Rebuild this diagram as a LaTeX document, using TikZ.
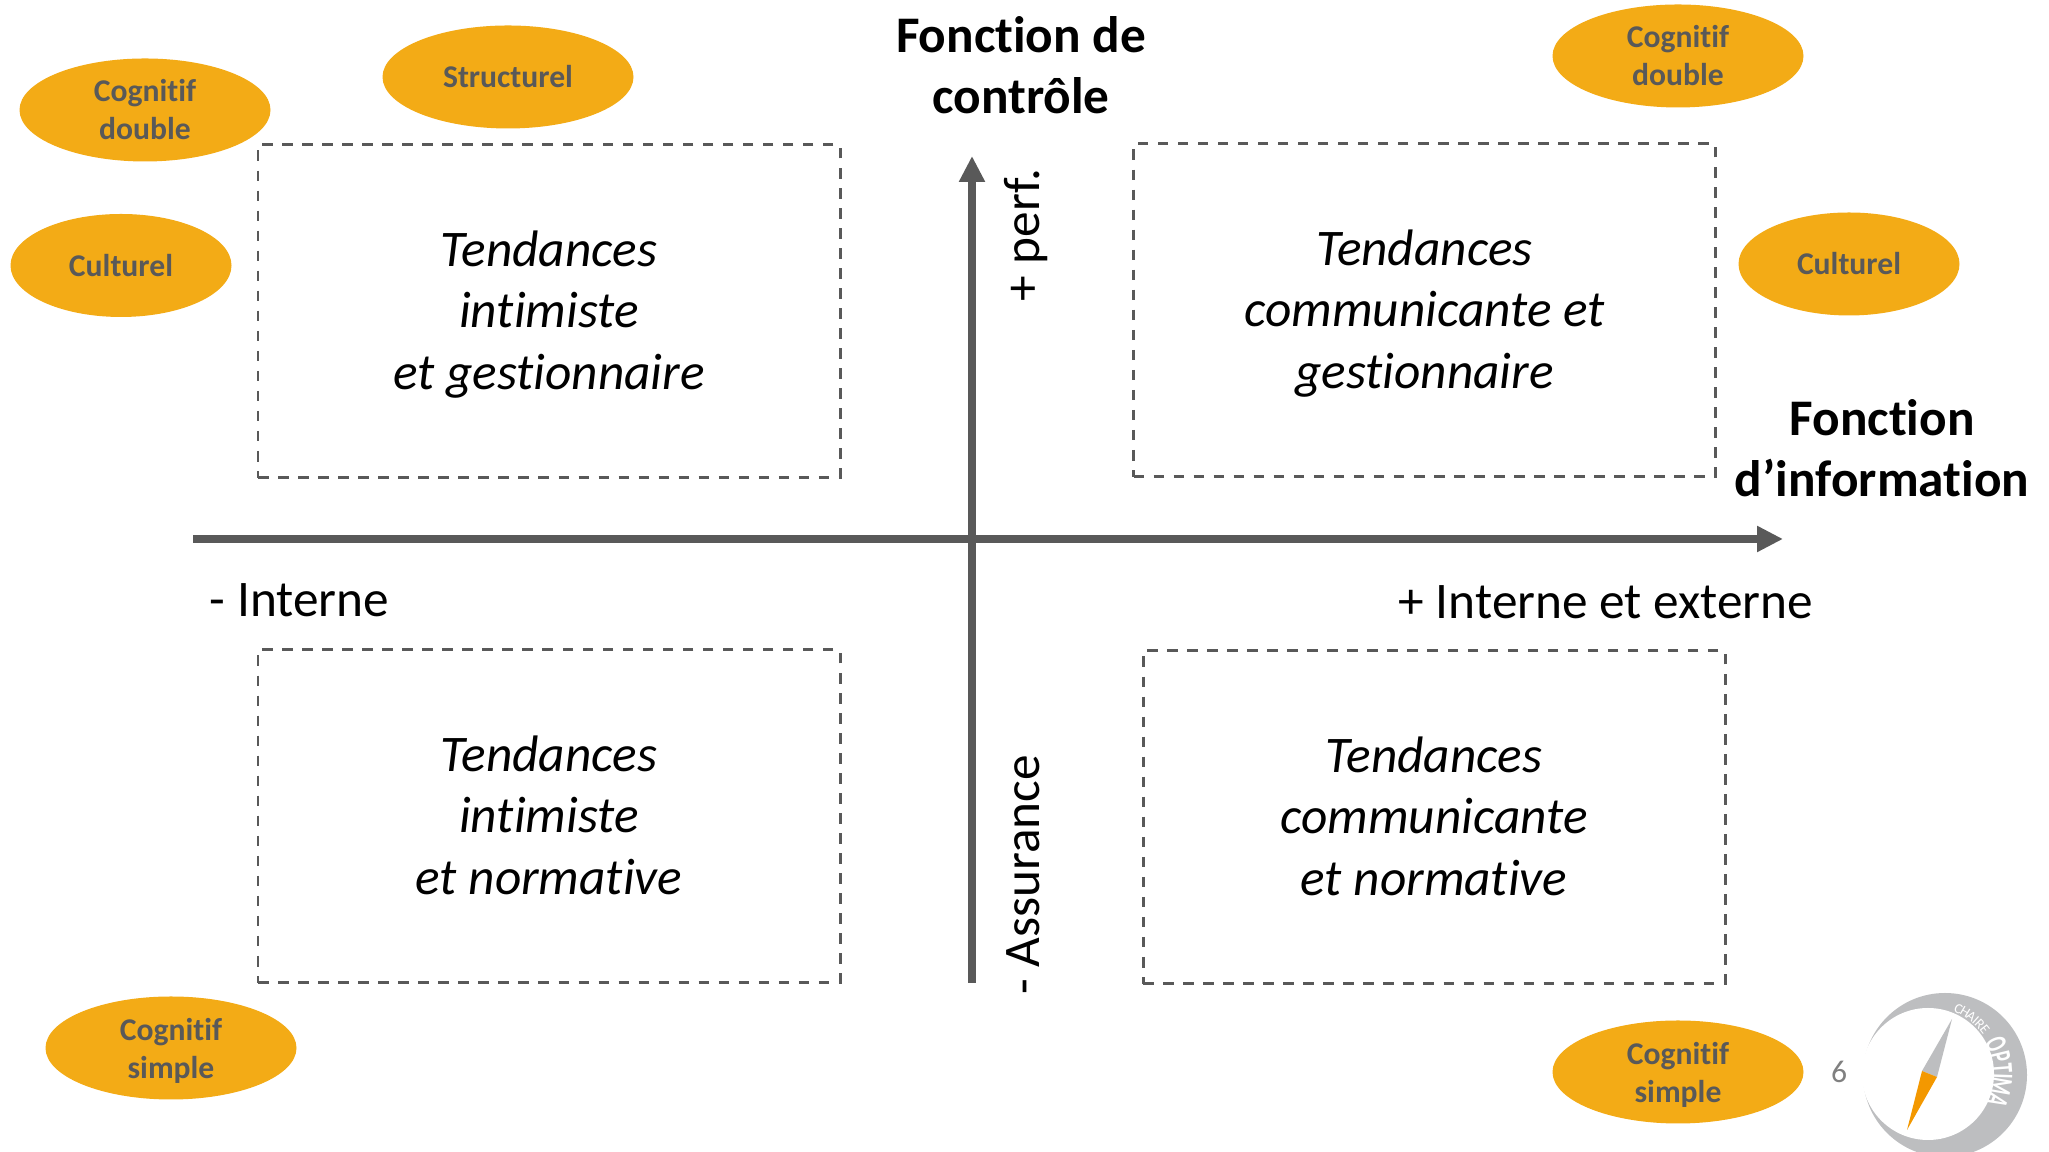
\documentclass[tikz,border=0pt]{standalone}
\usepackage{fontspec}
\setmainfont{Carlito}[Ligatures=CommonOff]
\usetikzlibrary{arrows.meta,shapes.geometric}
\definecolor{pastille}{HTML}{F3AB16}
\definecolor{axe}{HTML}{595959}
\definecolor{boussole}{HTML}{BDBEC0}
\definecolor{aiguille}{HTML}{F39800}
\tikzset{
	pastille/.style={ellipse, fill=pastille, text=axe, minimum width=2.51cm, minimum height=1.03cm, inner sep=0pt, align=center, font=\fontsize{9}{10.8}\selectfont\bfseries},
	tendance/.style={draw=axe, line width=0.85pt, dash pattern=on 3pt off 2.7pt, minimum width=5.82cm, minimum height=3.33cm, align=center, font=\fontsize{14.6}{17.5}\selectfont\itshape, execute at end node={\rule[-0.75pt]{0pt}{0.75pt}}},
	titre/.style={align=center, font=\fontsize{14.6}{17.4}\selectfont\bfseries},
	etiquette/.style={font=\fontsize{14.6}{17.5}\selectfont},
	fleche/.style={line width=2.5pt, color=axe, -{Triangle[length=7.4pt,width=7pt]}}
}

\begin{document}
\begin{tikzpicture}
			%%%%% START %%%%%
			
			\clip (0, 0) rectangle (20.49, 11.52);
			
			\coordinate (ouest) at (1.93, 6.13);
			\coordinate (est) at (17.83, 6.13);
			\coordinate (sud) at (9.72, 1.69);
			\coordinate (nord) at (9.72, 9.96);
			\draw[fleche] (ouest) -- (est);
			\draw[fleche] (sud) -- (nord);
			
			\node[tendance] (intimGest) at (5.49, 8.405) {Tendances\\intimiste\\et \smash{gestionnaire}};
			\node[tendance] (commGest) at (14.245, 8.415) {Tendances\\communicante et\\\smash{gestionnaire}};
			\node[tendance] (intimNorm) at (5.49, 3.355) {Tendances\\intimiste\\et normative};
			\node[tendance] (commNorm) at (14.34, 3.345) {Tendances\\communicante\\et normative};
			
			\node[pastille] (cogDoubleG) at (1.45, 10.42) {Cognitif\\double};
			\node[pastille] (structG) at (5.08, 10.75) {Structurel};
			\node[pastille, minimum width=2.21cm] (cultG) at (1.21, 8.865) {Culturel};
			\node[pastille] (cogDoubleD) at (16.78, 10.96) {Cognitif\\double};
			\node[pastille, minimum width=2.21cm] (cultD) at (18.49, 8.88) {Culturel};
			\node[pastille] (cogSimpleG) at (1.71, 1.04) {Cognitif\\\smash{simple}};
			\node[pastille] (cogSimpleD) at (16.78, 0.80) {Cognitif\\\smash{simple}};
			
			\node[titre] (controle) at (10.21, 10.865) {Fonction de\\contrôle};
			\node[titre] (information) at (18.82, 7.04) {Fonction\\d’information};
			
			\node[etiquette, anchor=west] (interne) at (1.975, 5.52) {- Interne};
			\node[etiquette] (externe) at (16.06, 5.50) {+ Interne et externe};
			\node[etiquette, rotate=90] (perf) at (10.26, 9.17) {+ perf.};
			\node[etiquette, rotate=90] (assurance) at (10.23, 2.77) {- Assurance};
			
			\node[text=black!50, font=\fontsize{9}{11}\selectfont] (page) at (18.39, 0.80) {6};
			
			% boussole
			\fill[boussole] (19.45, 0.77) circle (0.82);
			\fill[white] (19.28, 0.78) circle (0.66);
			\fill[boussole] (19.52, 1.33) -- (19.22, 0.81) -- (19.37, 0.75) -- cycle;
			\fill[aiguille] (19.07, 0.22) -- (19.22, 0.81) -- (19.37, 0.75) -- cycle;
			\foreach \lettre/\ang [count=\i] in {C/65,H/59,A/53,I/48.5,R/44,E/38}
				\node[text=white, inner sep=0pt, rotate=\ang-90, font=\fontsize{4}{4.5}\selectfont] (chaire\i) at ({19.28+0.72*cos(\ang)}, {0.78+0.72*sin(\ang)}) {\lettre};
			\foreach \lettre/\ang [count=\i] in {O/23.5,P/13.5,T/4.5,I/-2,M/-10,A/-21}
				\node[text=white, inner sep=0pt, rotate=\ang-90, xscale=0.6, font=\fontsize{9}{10}\selectfont\bfseries] (optima\i) at ({19.28+0.74*cos(\ang)}, {0.78+0.74*sin(\ang)}) {\lettre};
			
			%%%%% END %%%%%
		\end{tikzpicture}
\end{document}
